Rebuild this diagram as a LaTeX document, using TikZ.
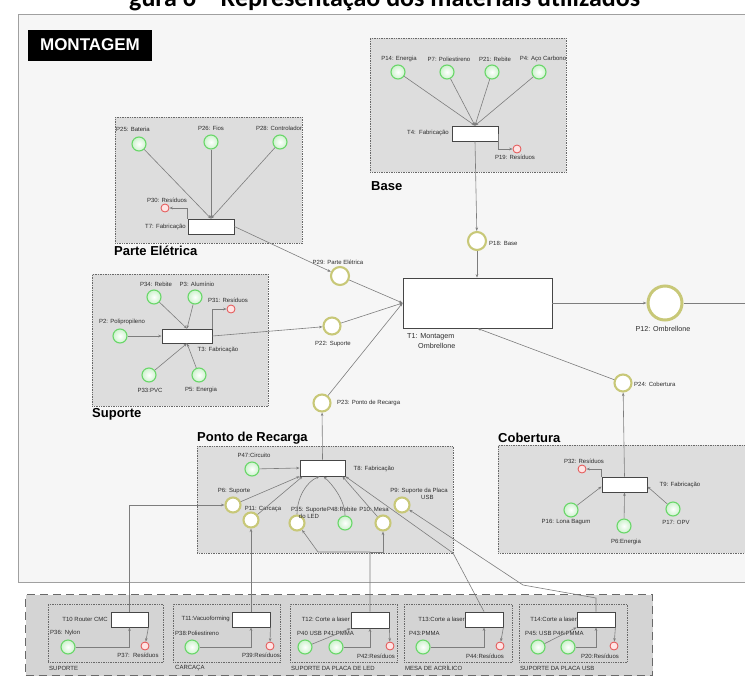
\documentclass[tikz,border=0pt]{standalone}
\usepackage{fontspec}
\setmainfont{Liberation Sans}
\newfontfamily\titlefont{Carlito}
\usetikzlibrary{arrows.meta}
\definecolor{framebg}{RGB}{246,246,246}
\definecolor{framedr}{RGB}{160,160,160}
\definecolor{grpbg}{RGB}{221,221,221}
\definecolor{grpdr}{RGB}{105,105,105}
\definecolor{gring}{RGB}{105,215,105}
\definecolor{gfill}{RGB}{205,242,205}
\definecolor{yring}{RGB}{200,200,120}
\definecolor{rring}{RGB}{228,80,80}
\definecolor{rfill}{RGB}{255,228,228}
\definecolor{trdr}{RGB}{70,70,70}
\definecolor{arcc}{RGB}{125,125,125}
\definecolor{lblc}{RGB}{45,45,45}
\begin{document}
\begin{tikzpicture}[x=1pt,y=-1pt,
  gp/.style={circle, draw=gring, line width=1.1pt, inner color=white, outer color=gfill, minimum size=14pt, inner sep=0pt},
  yp/.style={circle, draw=yring, line width=2.1pt, fill=white, minimum size=17pt, inner sep=0pt},
  ys/.style={yp, minimum size=15pt},
  rp/.style={circle, draw=rring, line width=0.8pt, fill=rfill, minimum size=8pt, inner sep=0pt},
  tr/.style={rectangle, draw=trdr, line width=0.8pt, fill=white, inner sep=0pt},
  grp/.style={rectangle, draw=grpdr, densely dotted, line width=0.7pt, fill=grpbg, anchor=north west, inner sep=0pt},
  lbl/.style={font=\fontsize{6}{6.6}\selectfont, text=lblc, inner sep=0pt, align=center},
  blbl/.style={font=\fontsize{7.2}{8.2}\selectfont, text=lblc, inner sep=0pt},
  glbl/.style={font=\bfseries\fontsize{13}{13}\selectfont, inner sep=0pt, anchor=west},
  arc/.style={draw=arcc, line width=0.6pt, -{Stealth[length=3.5pt,width=2.6pt]}},
  arcn/.style={draw=arcc, line width=0.6pt}]
\useasboundingbox (0,0) rectangle (745,686);
\clip (0,0) rectangle (745,686);

% frame and headings
\node[draw=framedr, fill=framebg, line width=0.8pt, anchor=north west, minimum width=760pt, minimum height=568pt, inner sep=0pt] (frame) at (18,14) {};
\node[font=\titlefont\bfseries\fontsize{26}{26}\selectfont, anchor=base west, inner sep=0pt] (title) at (129,6) {gura 6 – Representação dos materiais utilizados};
\node[fill=black, text=white, font=\bfseries\fontsize{17}{17}\selectfont, minimum width=124pt, minimum height=31pt, inner sep=0pt] (mont) at (90,45) {MONTAGEM};

% group boxes
\node[grp, minimum width=196pt, minimum height=134pt] (gBase) at (370,38) {};
\node[grp, minimum width=187pt, minimum height=126pt] (gPE) at (115,117) {};
\node[grp, minimum width=176pt, minimum height=132pt] (gSup) at (92,274) {};
\node[grp, minimum width=256pt, minimum height=107pt] (gPR) at (197,446) {};
\node[grp, minimum width=262pt, minimum height=108pt] (gCob) at (498,445) {};
\node[rectangle, draw=grpdr, dash pattern=on 8pt off 5pt, line width=1.3pt, fill=grpbg!96!black, anchor=north west, inner sep=0pt, minimum width=627pt, minimum height=81pt] (gBot) at (25,594) {};
\node[grp, fill=grpbg!96!black, minimum width=115pt, minimum height=58pt] (sb1) at (48,604) {};
\node[grp, fill=grpbg!96!black, minimum width=107pt, minimum height=58pt] (sb2) at (173,604) {};
\node[grp, fill=grpbg!96!black, minimum width=107pt, minimum height=58pt] (sb3) at (290,604) {};
\node[grp, fill=grpbg!96!black, minimum width=108pt, minimum height=58pt] (sb4) at (404,604) {};
\node[grp, fill=grpbg!96!black, minimum width=108pt, minimum height=58pt] (sb5) at (519,604) {};

\node[glbl] (lBase) at (371,186) {Base};
\node[glbl] (lPE) at (114,251) {Parte Elétrica};
\node[glbl] (lSup) at (92,414) {Suporte};
\node[glbl] (lPR) at (197,438) {Ponto de Recarga};
\node[glbl] (lCob) at (498,438) {Cobertura};

% ---- Base
\node[gp] (P14) at (398,72) {};
\node[gp] (P7) at (447,72) {};
\node[gp] (P21) at (492,72) {};
\node[gp] (P4) at (539,72) {};
\node[tr, minimum width=46pt, minimum height=15pt] (T4) at (475,133.5) {};
\node[rp] (P19) at (517,149) {};
\node[lbl] (lP14) at (399,59) {P14: Energia};
\node[lbl] (lP7) at (449,59) {P7: Poliestireno};
\node[lbl] (lP21) at (495,59) {P21: Rebite};
\node[lbl] (lP4) at (543,59) {P4: Aço Carbono};
\node[lbl, anchor=east] (lT4) at (449,133) {T4:\ \ Fabricação};
\node[lbl] (lP19) at (515,157) {P19: Resíduos};

% ---- centre
\node[yp, minimum size=18pt] (P18) at (477,241) {};
\node[lbl, anchor=west] (lP18) at (489,243) {P18: Base};
\node[tr, minimum width=149pt, minimum height=50pt] (T1) at (477.5,303) {};
\node[blbl, anchor=west] (lT1a) at (407,337) {T1: Montagem};
\node[blbl, anchor=west] (lT1b) at (418,346) {Ombrellone};
\node[yp, minimum size=34pt, line width=3pt] (P12) at (665,303) {};
\node[blbl] (lP12) at (663,329) {P12: Ombrellone};
\coordinate (rEnd) at (748,303);
\node[yp] (P24) at (623,383) {};
\node[lbl, anchor=west] (lP24) at (634,384) {P24: Cobertura};
\node[yp, minimum size=18pt] (P29) at (340,276) {};
\node[lbl] (lP29) at (338,262) {P29: Parte Elétrica};
\node[yp] (P22) at (332,326) {};
\node[lbl] (lP22) at (333,344) {P22: Suporte};
\node[yp] (P23) at (322,403) {};
\node[lbl, anchor=west] (lP23) at (337,403) {P23: Ponto de Recarga};

% ---- Parte Eletrica
\node[gp] (P25) at (139,144) {};
\node[gp] (P26) at (211,142) {};
\node[gp] (P28) at (280,142) {};
\node[tr, minimum width=46pt, minimum height=15pt] (T7) at (211,226.5) {};
\node[rp] (P30) at (165,208) {};
\node[lbl] (lP25) at (133,129) {P25: Bateria};
\node[lbl] (lP26) at (211,128) {P26: Fios};
\node[lbl] (lP28) at (279,128) {P28: Controlador};
\node[lbl, anchor=east] (lT7) at (186,227) {T7: Fabricação};
\node[lbl] (lP30) at (167,200) {P30: Resíduos};

% ---- Suporte
\node[gp] (P34) at (154,297) {};
\node[gp] (P3) at (195,297) {};
\node[gp] (P2) at (120,336) {};
\node[gp] (P33) at (149,375) {};
\node[gp] (P5) at (199,375) {};
\node[tr, minimum width=50pt, minimum height=14pt] (T3) at (187,336) {};
\node[rp] (P31) at (231,309) {};
\node[lbl] (lP34) at (156,284) {P34: Rebite};
\node[lbl] (lP3) at (197,284) {P3: Alumínio};
\node[lbl] (lP31) at (228,300) {P31: Resíduos};
\node[lbl] (lP2) at (122,322) {P2: Polipropileno};
\node[lbl] (lP33) at (150,390) {P33:PVC};
\node[lbl] (lP5) at (201,390) {P5: Energia};
\node[lbl] (lT3) at (218,350) {T3: Fabricação};

% ---- Ponto de Recarga
\node[tr, minimum width=45pt, minimum height=16pt] (T8) at (322.5,468) {};
\node[lbl] (lT8) at (374,469) {T8: Fabricação};
\node[gp] (P47) at (252,469) {};
\node[lbl] (lP47) at (254,455) {P47:Circuito};
\node[ys] (P6s) at (233,505) {};
\node[lbl] (lP6s) at (234,491) {P6: Suporte};
\node[ys] (P11) at (251,520) {};
\node[lbl] (lP11) at (263,509) {P11: Carcaça};
\node[ys] (P35) at (297,523) {};
\node[lbl] (lP35) at (309,513) {P35: Suporte\\ do LED};
\node[gp] (P48) at (345,523) {};
\node[lbl] (lP48) at (342,509) {P48:Rebite};
\node[ys] (P10) at (383,523) {};
\node[lbl] (lP10) at (374,509) {P10: Mesa};
\node[ys] (P9) at (402,505) {};
\node[lbl] (lP9) at (419,494) {P9: Suporte da Placa\\ \ \ \ \ \ \ \ \ \ \ USB};

% ---- Cobertura
\node[tr, minimum width=45pt, minimum height=15pt] (T9) at (624.5,484.5) {};
\node[lbl] (lT9) at (680,485) {T9: Fabricação};
\node[rp] (P32) at (582,469) {};
\node[lbl] (lP32) at (584,461) {P32: Resíduos};
\node[gp] (P16) at (571,510) {};
\node[lbl] (lP16) at (566,522) {P16: Lona Bagum};
\node[gp] (P6e) at (624,526) {};
\node[lbl] (lP6e) at (626,542) {P6:Energia};
\node[gp] (P17) at (673,509) {};
\node[lbl] (lP17) at (676,522) {P17: OPV};

% ---- bottom sub-processes
\node[tr, minimum width=37pt, minimum height=15pt] (T10) at (129.5,619.5) {};
\node[lbl, anchor=east] (lT10) at (108,619) {T10 Router CMC};
\node[gp] (P36) at (68,647) {};
\node[lbl, anchor=west] (lP36) at (50,633) {P36: Nylon};
\node[rp] (P37) at (145,646) {};
\node[lbl] (lP37) at (138,655) {P37:\ \ Resíduos};
\node[lbl, anchor=west] (lsb1) at (49,668) {SUPORTE};

\node[tr, minimum width=38pt, minimum height=15pt] (T11) at (251,619.5) {};
\node[lbl, anchor=east] (lT11) at (230,619) {T11:Vacuoforming};
\node[gp] (P38) at (192,647) {};
\node[lbl, anchor=west] (lP38) at (175,633) {P38:Poliestireno};
\node[rp] (P39) at (270,646) {};
\node[lbl] (lP39) at (261,655) {P39:Resíduos};
\node[lbl, anchor=west] (lsb2) at (175,668) {CARCAÇA};

\node[tr, minimum width=38pt, minimum height=16pt] (T12) at (370,620) {};
\node[lbl, anchor=east] (lT12) at (350,619) {T12:\ Corte a laser};
\node[gp] (P40) at (305,647) {};
\node[gp] (P41) at (336,647) {};
\node[lbl, anchor=west] (lP40) at (297,633) {P40 USB P41:PMMA};
\node[rp] (P42) at (390,646) {};
\node[lbl] (lP42) at (376,656) {P42:Resíduos};
\node[lbl, anchor=west] (lsb3) at (291,668) {SUPORTE DA PLACA DE LED};

\node[tr, minimum width=38pt, minimum height=15pt] (T13) at (484,619.5) {};
\node[lbl, anchor=east] (lT13) at (465,619) {T13:Corte a laser};
\node[gp] (P43) at (423,647) {};
\node[lbl, anchor=west] (lP43) at (409,633) {P43:PMMA};
\node[rp] (P44) at (500,646) {};
\node[lbl] (lP44) at (485,656) {P44:Resíduos};
\node[lbl, anchor=west] (lsb4) at (405,668) {MESA DE ACRÍLICO};

\node[tr, minimum width=38pt, minimum height=15pt] (T14) at (596,619.5) {};
\node[lbl, anchor=east] (lT14) at (577,619) {T14:Corte a laser};
\node[gp] (P45) at (538,647) {};
\node[gp] (P46) at (568,647) {};
\node[lbl, anchor=west] (lP45) at (525,633) {P45:\ USB P46:PMMA};
\node[rp] (P20) at (614,646) {};
\node[lbl] (lP20) at (600,656) {P20:Resíduos};
\node[lbl, anchor=west] (lsb5) at (520,668) {SUPORTE DA PLACA USB};

% knee points
\coordinate (kA) at (453,553);
\coordinate (k12) at (370,552);
\coordinate (k35) at (318,552);
\coordinate (k10) at (383,552);
\coordinate (k14a) at (596,598);
\coordinate (k14b) at (523,585);
\coordinate (kT10) at (129.5,505);

% ---- arcs: Base
\draw[arc] (P14) -- (T4.north);
\draw[arc] (P7) -- (T4.north);
\draw[arc] (P21) -- (T4.north);
\draw[arc] (P4) -- (T4.north);
\draw[arc] (T4.east) -- (T4.east |- P19) -- (P19);
\draw[arc] (T4.south) -- (P18);
\draw[arc] (P18) -- (P18 |- T1.north);
% centre
\draw[arc] (T1.east) -- (P12);
\draw[arcn] (P12) -- (rEnd);
\draw[arc] (P24) -- (T1.south);
\draw[arc] (T9.north) -- (P24);
\draw[arc] (P29) -- (T1.west);
\draw[arc] (P22) -- (T1.west);
\draw[arc] (P23) -- (T1.west);
\draw[arc] (T7.east) -- (P29);
\draw[arc] (T3.east) -- (P22);
\draw[arc] (T8.north) -- (P23);
% Parte Eletrica
\draw[arc] (P25) -- (T7.north);
\draw[arc] (P26) -- (T7.north);
\draw[arc] (P28) -- (T7.north);
\draw[arc] (T7.north west) -- (T7.north west |- P30) -- (P30);
% Suporte
\draw[arc] (P34) -- (T3.north);
\draw[arc] (P3) -- (T3.north);
\draw[arc] (P2) -- (T3.west);
\draw[arc] (P33) -- (T3.south);
\draw[arc] (P5) -- (T3.south);
\draw[arc] (T3.north east) -- (T3.north east |- P31) -- (P31);
% Ponto de Recarga
\draw[arc] (P47) -- (T8.west);
\draw[arc] (P6s) -- (T8.south west);
\draw[arc] (P11) -- ([xshift=3pt]T8.south west);
\draw[arc] (P35) .. controls (297,498) and (306,482) .. ([xshift=-3pt]T8.south);
\draw[arc] (P48) .. controls (345,500) and (332,484) .. ([xshift=1pt]T8.south);
\draw[arc] (P10) -- ([xshift=-3pt]T8.south east);
\draw[arc] (T13.north) -- (kA) -- (T8.south east);
\draw[arc] (T12.north) -- (k12) -- (k35) -- (P35);
\draw[arc] (k12) -- (k10) -- (P10);
\draw[arc] (T14.north) -- (k14a) -- (k14b) -- (P9);
\draw[arc] (T10.north) -- (kT10) -- (P6s);
\draw[arc] (T11.north) -- (P11);
% Cobertura
\draw[arc] (P16) -- ([yshift=-2pt]T9.west);
\draw[arc] (P6e) -- (T9.south);
\draw[arc] (P17) -- ([yshift=-2pt]T9.east);
\draw[arc] (T9.north west) -- (T9.north west |- P32) -- (P32);
% bottom
\draw[arc] (P36) -- (P36 -| T10.south) -- (T10.south);
\draw[arc] (T10.south east) -- (P37);
\draw[arc] (P38) -- (P38 -| T11.south) -- (T11.south);
\draw[arc] (T11.south east) -- (P39);
\draw[arc] (P40) -- (T12.south west);
\draw[arc] (P41) -- (P41 -| T12.south) -- (T12.south);
\draw[arc] (T12.south east) -- (P42);
\draw[arc] (P43) -- (P43 -| T13.south) -- (T13.south);
\draw[arc] (T13.south east) -- (P44);
\draw[arc] (P45) -- (T14.south west);
\draw[arc] (P46) -- (P46 -| T14.south) -- (T14.south);
\draw[arc] (T14.south east) -- (P20);
\end{tikzpicture}
\end{document}
